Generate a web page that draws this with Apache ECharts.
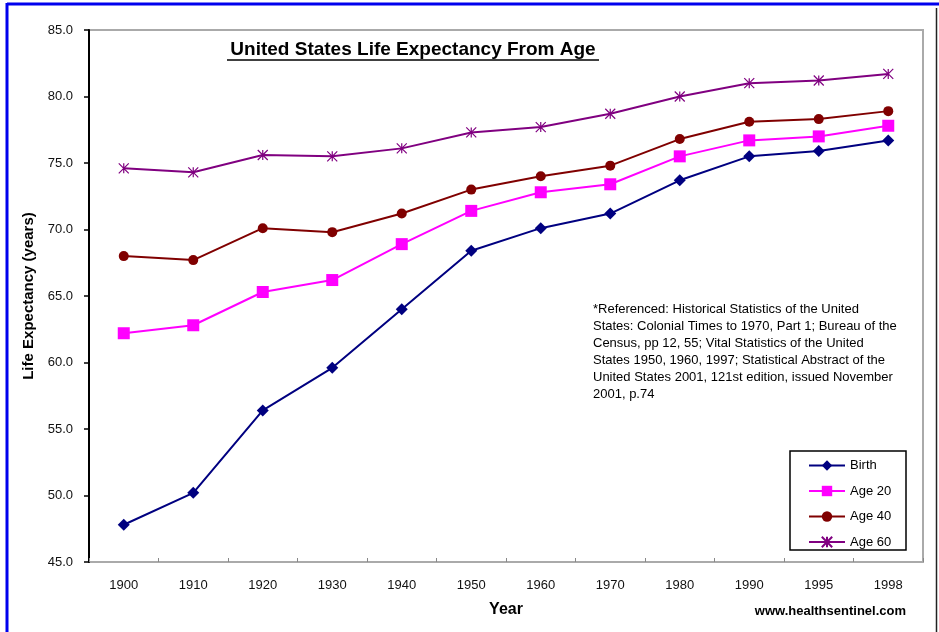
<!DOCTYPE html>
<html><head><meta charset="utf-8">
<script src="https://cdn.jsdelivr.net/npm/echarts@6/dist/echarts.min.js"></script>
<style>html,body{margin:0;padding:0;background:#fff}#c{width:939px;height:632px}</style>
</head><body><div id="c"></div>
<script>
const years = ['1900','1910','1920','1930','1940','1950','1960','1970','1980','1990','1995','1998'];
const birth = [47.8,50.2,56.4,59.6,64.0,68.4,70.1,71.2,73.7,75.5,75.9,76.7];
const age20 = [62.2,62.8,65.3,66.2,68.9,71.4,72.8,73.4,75.5,76.7,77.0,77.8];
const age40 = [68.0,67.7,70.1,69.8,71.2,73.0,74.0,74.8,76.8,78.1,78.3,78.9];
const age60 = [74.6,74.3,75.6,75.5,76.1,77.3,77.7,78.7,80.0,81.0,81.2,81.7];
const seriesNames = ['Birth','Age 20','Age 40','Age 60'];
const footnote = ['*Referenced: Historical Statistics of the United',
 'States: Colonial Times to 1970, Part 1; Bureau of the',
 'Census, pp 12, 55; Vital Statistics of the United',
 'States 1950, 1960, 1997; Statistical Abstract of the',
 'United States 2001, 121st edition, issued November',
 '2001, p.74'];

const chart = echarts.init(document.getElementById('c'), null, {renderer:'canvas'});
const star = 'path://M0,0L10,10M10,0L0,10M5,0L5,10';
function mk(name, data, color, symbol, size, extra){
  return Object.assign({
    name, type:'line', data, symbol, symbolSize:size, showSymbol:true,
    lineStyle:{color, width:2}, itemStyle:{color}, emphasis:{disabled:true}, z:3
  }, extra||{});
}
chart.setOption({
  animation:false,
  textStyle:{fontFamily:'Liberation Sans, Arial, sans-serif'},
  graphic:[
    {type:'line', shape:{x1:7,y1:4,x2:939,y2:4}, style:{stroke:'#0000ee', lineWidth:3}},
    {type:'line', shape:{x1:7,y1:3,x2:7,y2:632}, style:{stroke:'#0000ee', lineWidth:3}},
    {type:'line', shape:{x1:936.5,y1:8,x2:936.5,y2:632}, style:{stroke:'#222', lineWidth:1.5}},
    {type:'text', x:413, y:40, style:{text:'United States Life Expectancy From Age', textAlign:'center', textVerticalAlign:'top', font:'bold 19px Liberation Sans, Arial', fill:'#000'}},
    {type:'line', shape:{x1:227,y1:60,x2:599,y2:60}, style:{stroke:'#000', lineWidth:1.5}},
    {type:'text', x:593, y:301, style:{text:footnote.join('\n'), font:'13px Liberation Sans, Arial', fill:'#000', lineHeight:17, textVerticalAlign:'top'}},
    {type:'text', x:906, y:605, style:{text:'www.healthsentinel.com', textAlign:'right', textVerticalAlign:'top', font:'bold 13px Liberation Sans, Arial', fill:'#000'}},
    {type:'rect', shape:{x:790,y:451,width:116,height:99}, style:{fill:'#fff', stroke:'#000', lineWidth:1.5}, z:10}
  ],
  legend:{
    orient:'vertical', left:803, top:454, itemGap:12.5, itemWidth:36, itemHeight:13,
    textStyle:{fontSize:13, color:'#000'}, z:11,
    data:seriesNames
  },
  grid:{left:89, top:30, right:16, bottom:70, show:true, borderColor:'#aaa', borderWidth:2, backgroundColor:'#fff'},
  xAxis:{
    type:'category', data:years, boundaryGap:true,
    name:'Year', nameLocation:'middle', nameGap:40,
    nameTextStyle:{fontSize:16, fontWeight:'bold', color:'#000'},
    axisLine:{show:false},
    axisTick:{show:true, inside:true, length:4, lineStyle:{color:'#888'}},
    axisLabel:{fontSize:13, color:'#111', margin:17}
  },
  yAxis:{
    type:'value', min:45, max:85, interval:5,
    name:'Life Expectancy (years)', nameLocation:'middle', nameGap:52, nameRotate:90,
    nameTextStyle:{fontSize:15, fontWeight:'bold', color:'#000'},
    axisLine:{show:true, lineStyle:{color:'#000', width:2}},
    axisTick:{show:true, length:5, lineStyle:{color:'#000', width:1.5}},
    axisLabel:{fontSize:13, color:'#111', margin:16, formatter:v=>v.toFixed(1)},
    splitLine:{show:false}
  },
  series:[
    mk('Birth', birth, '#000080', 'diamond', 12),
    mk('Age 20', age20, '#ff00ff', 'rect', 12),
    mk('Age 40', age40, '#800000', 'circle', 10),
    mk('Age 60', age60, '#800080', star, 10, {itemStyle:{color:'transparent', borderColor:'#800080', borderWidth:1.2}})
  ]
});
</script></body></html>
